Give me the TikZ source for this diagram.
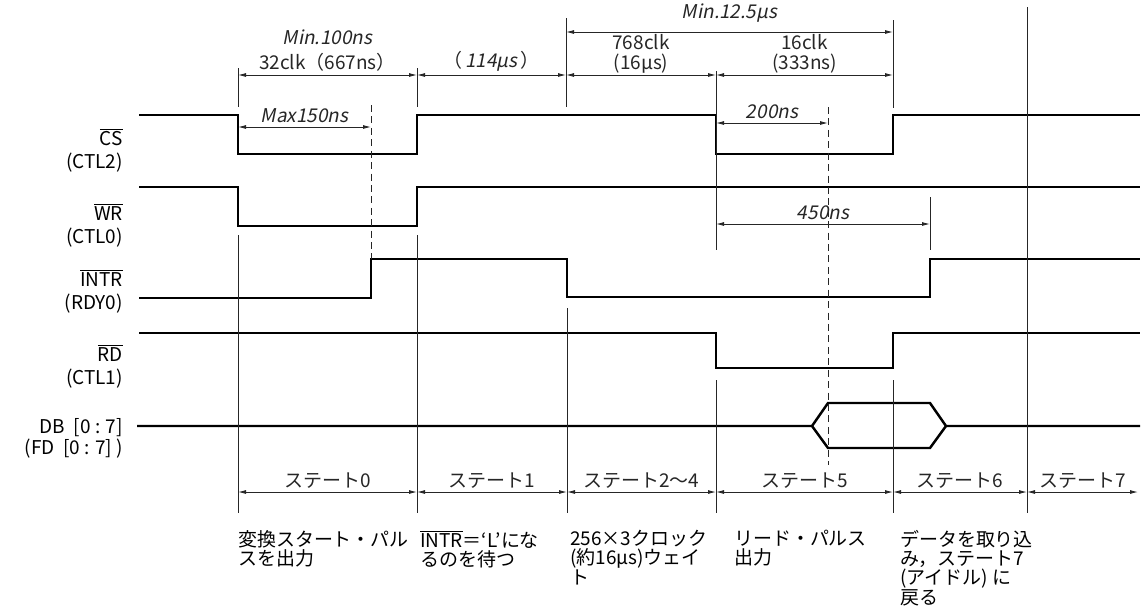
\documentclass[tikz,border=0pt]{standalone}
\usepackage{fontspec}
\setmainfont{Noto Sans CJK JP}
\newfontfamily\slantfont[FakeSlant=0.2]{Noto Sans CJK JP}
\usetikzlibrary{arrows.meta}
\newcommand{\ovl}[1]{$\overline{\mbox{#1}}$}

\begin{document}
\begin{tikzpicture}[x=0.02cm, y=-0.02cm,
    every node/.style={font=\fontsize{10.8}{11}\selectfont, inner sep=1pt},
    sig/.style={line width=1.4pt, line join=miter},
    guide/.style={line width=0.5pt, black!85},
    dim/.style={line width=0.5pt, black!85, {Latex[length=1.6mm,width=0.8mm]}-{Latex[length=1.6mm,width=0.8mm]}},
    timing/.style={line width=0.5pt, black!85, dash pattern=on 4pt off 2.5pt},
    lbl/.style={anchor=east, align=right},
    note/.style={anchor=north west, align=left}]
  \useasboundingbox (0,0) rectangle (1143,606);

  \node[lbl] (cs) at (125,150) {\ovl{CS}\\[2pt](CTL2)};
  \node[lbl] (wr) at (125,225) {\ovl{WR}\\[2pt](CTL0)};
  \node[lbl] (intr) at (125,291) {\ovl{INTR}\\[2pt](RDY0)};
  \node[lbl] (rd) at (125,366) {\ovl{RD}\\[2pt](CTL1)};
  \node[lbl] (db) at (125,438) {DB\ \ [0 : 7]\\[1pt](FD\ \ [0 : 7] )};

  \draw[sig] (139,115) -- (238,115) -- (238,154) -- (417,154) -- (417,115) -- (716,115) -- (716,154) -- (893,154) -- (893,115) -- (1140,115);
  \draw[sig] (139,187) -- (238,187) -- (238,226) -- (417,226) -- (417,187) -- (1140,187);
  \draw[sig] (139,298) -- (371,298) -- (371,259) -- (567,259) -- (567,297) -- (930,297) -- (930,259) -- (1140,259);
  \draw[sig] (139,333) -- (716,333) -- (716,368) -- (893,368) -- (893,333) -- (1140,333);
  \draw[sig] (137,426) -- (812,426) -- (828,403) -- (930,403) -- (946,426) -- (1140,426);
  \draw[sig] (812,426) -- (828,448) -- (930,448) -- (946,426);

  \draw[guide] (238,68) -- (238,107);
  \draw[guide] (417,68) -- (417,107);
  \draw[guide] (566,18) -- (566,107);
  \draw[guide] (716,71) -- (716,250);
  \draw[guide] (893,20) -- (893,108);
  \draw[guide] (930,197) -- (930,250);
  \draw[guide] (1027,7) -- (1027,513);
  \draw[guide] (238,235) -- (238,513);
  \draw[guide] (417,235) -- (417,513);
  \draw[guide] (567,308) -- (567,513);
  \draw[guide] (716,380) -- (716,513);
  \draw[guide] (893,380) -- (893,513);
  \draw[timing] (371,105) -- (371,259);
  \draw[timing] (828,107) -- (828,465);

  \coordinate (m0) at (566,32);
  \coordinate (m1) at (893,32);
  \draw[dim] (m0) -- node[above=4pt] (min125) {\slantfont Min.12.5µs} (m1);

  \coordinate (c0) at (238,75);
  \coordinate (c1) at (417,75);
  \coordinate (c2) at (566,75);
  \coordinate (c3) at (716,75);
  \coordinate (c4) at (893,75);
  \draw[dim] (c0) -- node[above=1pt, align=center] (clk32) {{\slantfont Min.100ns}\\[3pt]32clk（667ns）} (c1);
  \draw[dim] (c1) -- node[above=1pt] (wait114) {（\,{\slantfont 114µs}\,）} (c2);
  \draw[dim] (c2) -- node[above=0pt, align=center] (clk768) {768clk\\(16µs)} (c3);
  \draw[dim] (c3) -- node[above=0pt, align=center] (clk16) {16clk\\(333ns)} (c4);

  \coordinate (p0) at (238,127);
  \coordinate (p1) at (371,127);
  \draw[dim] (p0) -- node[above=1pt] (max150) {\slantfont Max150ns} (p1);
  \coordinate (r0) at (716,123);
  \coordinate (r1) at (828,123);
  \draw[dim] (r0) -- node[above=1pt] (ns200) {\slantfont 200ns} (r1);
  \coordinate (q0) at (716,224);
  \coordinate (q1) at (930,224);
  \draw[dim] (q0) -- node[above=1pt] (ns450) {\slantfont 450ns} (q1);

  \foreach \a/\b/\t [count=\i] in {238/417/ステート0, 417/567/ステート1, 567/716/ステート2〜4, 716/893/ステート5, 893/1027/ステート6, 1027/1138/ステート7} {
    \coordinate (s\i a) at (\a,492);
    \coordinate (s\i b) at (\b,492);
    \draw[dim] (s\i a) -- node[above=1pt] (state\i) {\t} (s\i b);
  }

  \node[note] (n0) at (236,528) {変換スタート・パル\\スを出力};
  \node[note] (n1) at (418,528) {\ovl{INTR}＝‘L’にな\\るのを待つ};
  \node[note] (n2) at (568,528) {256×3クロック\\(約16µs)ウェイ\\ト};
  \node[note] (n3) at (732,528) {リード・パルス\\出力};
  \node[note] (n4) at (898,528) {データを取り込\\み，ステート7\\(アイドル) に\\戻る};
\end{tikzpicture}
\end{document}
